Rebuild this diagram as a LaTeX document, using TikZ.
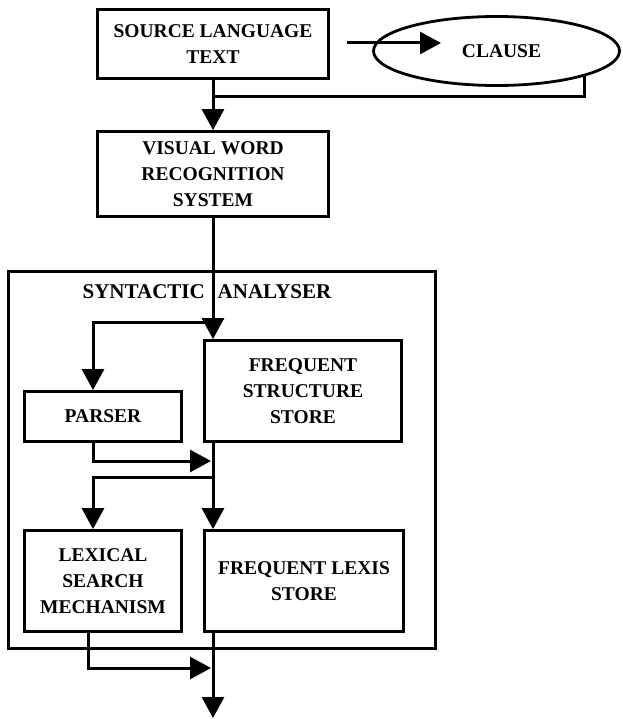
\documentclass[tikz,border=0pt]{standalone}
\usepackage{fontspec}
\setmainfont{Liberation Serif}
\usetikzlibrary{arrows.meta,shapes.geometric}
\tikzset{
    blk/.style={draw, line width=2.8pt, align=center, inner sep=0pt, font=\fontsize{19.5}{26}\selectfont\bfseries},
    flow/.style={line width=3pt, -{Triangle[width=22pt,length=21pt]}},
    link/.style={line width=3pt}
}
\begin{document}
\begin{tikzpicture}[x=1pt,y=-1pt]
            \useasboundingbox (0,0) rectangle (622,719);
            \node[blk, minimum width=231pt, minimum height=69pt] (src) at (213,44) {SOURCE LANGUAGE\\TEXT};
            \node[blk, ellipse, minimum width=246pt, minimum height=69pt] (clause) at (496.5,51) {\hspace{10pt}CLAUSE};
            \node[blk, minimum width=231pt, minimum height=85pt] (vwr) at (213,174) {VISUAL WORD\\RECOGNITION\\SYSTEM};
            \node[draw, line width=3.2pt, minimum width=427pt, minimum height=377pt] (syn) at (222,460) {};
            \node[font=\fontsize{21}{25}\selectfont\bfseries] (syntitle) at (207,292) {SYNTACTIC\hspace{13pt}ANALYSER};
            \node[blk, minimum width=197pt, minimum height=101pt] (fss) at (303,391) {FREQUENT\\STRUCTURE\\STORE};
            \node[blk, minimum width=157pt, minimum height=50pt] (parser) at (103,416.5) {PARSER};
            \node[blk, minimum width=157pt, minimum height=101pt] (lsm) at (103,581) {LEXICAL\\SEARCH\\MECHANISM};
            \node[blk, minimum width=199pt, minimum height=101pt] (fls) at (304,581) {FREQUENT LEXIS\\STORE};

            \coordinate (cin) at (347,43); \coordinate (cout) at (441,43);
            \coordinate (join) at (213,97);
            \coordinate (fork1) at (213,322); \coordinate (fork2) at (213,477);
            \coordinate (merge1) at (211,461); \coordinate (merge2) at (211,668);
            \coordinate (out) at (213,718);

            \draw[flow] (cin) -- (cout); \draw[link] (clause.-16) |- (join); \draw[flow] (src) -- (vwr);
            \draw[flow] (vwr.south) -- (vwr.south |- fss.north); \draw[flow] (fork1) -| ([xshift=-10pt]parser.north);
            \draw[flow] ([xshift=-10pt]parser.south) |- (merge1); \draw[flow] (vwr.south |- fss.south) -- (vwr.south |- fls.north);
            \draw[flow] (fork2) -| ([xshift=-10pt]lsm.north); \draw[flow] ([xshift=-15pt]lsm.south) |- (merge2);
            \draw[flow] (vwr.south |- fls.south) -- (out);
        \end{tikzpicture}
\end{document}
